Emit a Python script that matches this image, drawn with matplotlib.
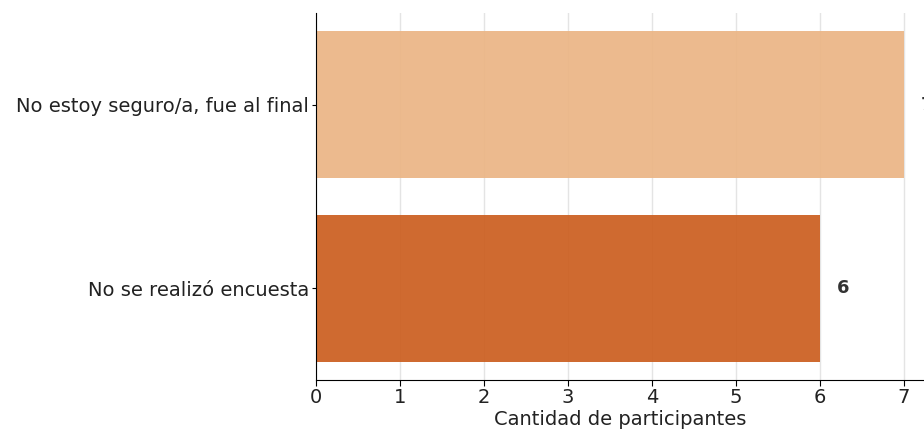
import matplotlib
matplotlib.use("Agg")
import matplotlib.pyplot as plt

categories = ["No se realizó encuesta", "No estoy seguro/a, fue al final"]
values = [6, 7]
colors = ["#CC5F20", "#EBB585"]
xticks = [0, 1, 2, 3, 4, 5, 6, 7]

plt.rcParams['font.family'] = ['DejaVu Sans']
fig = plt.figure(figsize=(9.24, 4.30), dpi=100)
W, H = 924, 430
px_per_unit = 84
left, right, bottom, top = 316, 924, 380, 13
ax = fig.add_axes([left / W, 1 - bottom / H, (right - left) / W, (bottom - top) / H])

ax.set_axisbelow(True)
ax.grid(axis='x', color='#e4e4e4', linewidth=1)
ax.barh(range(len(categories)), values, height=0.8, color=colors, alpha=0.93, zorder=2)
for i, v in enumerate(values):
    ax.text(v + 0.2, i, str(v), va='center', ha='left', fontsize=13,
            fontweight='bold', color='#333333', clip_on=False)

ax.set_xlim(0, (right - left) / px_per_unit)
ax.set_ylim(-0.5, 1.5)
ax.set_xticks(xticks)
ax.set_xticklabels([str(t) for t in xticks], fontsize=14, color='#222222')
ax.set_yticks(range(len(categories)))
ax.set_yticklabels(categories, fontsize=14, color='#222222')
ax.set_xlabel("Cantidad de participantes", fontsize=14, labelpad=2, color='#222222')
for s in ['top', 'right']:
    ax.spines[s].set_visible(False)
ax.tick_params(axis='y', length=3, pad=2)
ax.tick_params(axis='x', length=4, pad=2)

fig.savefig("out.png", dpi=100)
